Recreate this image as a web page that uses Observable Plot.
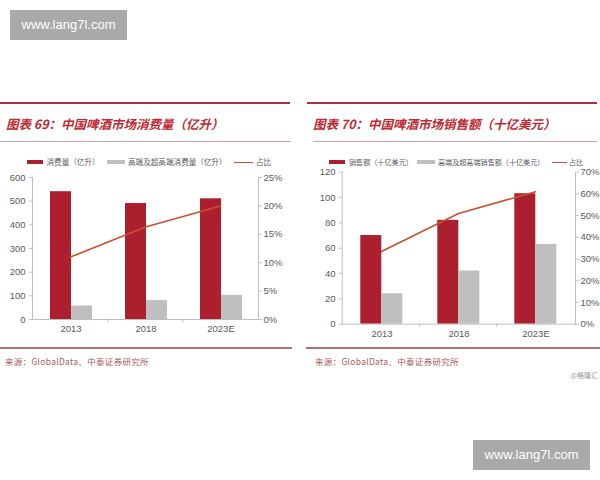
<!DOCTYPE html>
<html><head><meta charset="utf-8">
<script src="https://cdn.jsdelivr.net/npm/d3@7"></script>
<script src="https://cdn.jsdelivr.net/npm/@observablehq/plot@0.6"></script>
<style>
body{margin:0;background:#fff;}
#root{position:relative;width:600px;height:480px;overflow:hidden;background:#fff;font-family:"Noto Sans CJK SC","Noto Sans",sans-serif;}
.a{position:absolute;white-space:nowrap;}
.title{font-size:12.5px;font-weight:bold;font-style:italic;color:#BE2A32;line-height:14px;}
.leg{line-height:10px;color:#595959;}
.src{font-size:8.5px;color:#B05858;line-height:10px;letter-spacing:0.3px;}
.wm{background:#A9A9A9;color:#fff;font-family:"Liberation Sans",Arial,sans-serif;font-size:13px;text-align:center;line-height:30px;width:117px;height:30px;}
svg{position:absolute;}
</style></head><body><div id="root"></div>
<script>
// ---- data ----
const categories = ["2013", "2018", "2023E"];
const seriesVolume = ["消费量（亿升）", "高端及超高端消费量（亿升）"];
const seriesSales = ["销售额（十亿美元）", "高端及超高端销售额（十亿美元）"];
const shareLabel = "占比";
const volumeTotal = [540, 490, 510];
const volumePremium = [57, 80, 102];
const volumeShare = [0.11, 0.163, 0.20];
const salesTotal = [70, 82, 103];
const salesPremium = [24, 42, 63];
const salesShare = [0.335, 0.51, 0.61];
const volumeTicks = [0, 100, 200, 300, 400, 500, 600];
const volumeShareTicks = [0, 0.05, 0.10, 0.15, 0.20, 0.25];
const salesTicks = [0, 20, 40, 60, 80, 100, 120];
const salesShareTicks = [0, 0.1, 0.2, 0.3, 0.4, 0.5, 0.6, 0.7];
const titleVolume = "图表 69：中国啤酒市场消费量（亿升）";
const titleSales = "图表 70：中国啤酒市场销售额（十亿美元）";
const sourceText = "来源：GlobalData、中泰证券研究所";
const watermark = "www.lang7l.com";
const credit = "@格隆汇";

// ---- style ----
const RED = "#AC1F2E", GRAY = "#BFBFBF", LINE = "#C9502E", AXIS = "#BFBFBF", TXT = "#595959";
const root = document.getElementById("root");

function el(cls, text, css) {
  const d = document.createElement("div");
  d.className = "a " + cls;
  if (text != null) d.textContent = text;
  Object.assign(d.style, css);
  root.appendChild(d);
  return d;
}

function chart(o) {
  const rows = [];
  categories.forEach((c, i) => {
    rows.push({category: c, series: o.series[0], value: o.total[i]});
    rows.push({category: c, series: o.series[1], value: o.premium[i]});
  });
  const share = categories.map((c, i) => ({category: c, share: o.share[i]}));
  const common = {
    width: o.width, height: o.height,
    marginLeft: o.ml, marginRight: o.mr, marginTop: o.mt, marginBottom: o.mb,
    style: {background: "transparent", fontFamily: "'Liberation Sans', Arial, sans-serif", fontSize: "9.5px", color: TXT, overflow: "visible"}
  };
  const step = (o.width - o.ml - o.mr) / categories.length;
  const bars = Plot.plot({
    ...common,
    fx: {domain: categories, padding: 0, label: null},
    x: {domain: o.series, axis: null, paddingInner: 0, paddingOuter: 0.75},
    y: {domain: [0, o.ticks[o.ticks.length - 1]], label: null},
    color: {domain: o.series, range: [RED, GRAY]},
    marks: [
      Plot.barY(rows, {fx: "category", x: "series", y: "value", fill: "series"}),
      Plot.axisFx({anchor: "bottom", tickSize: 0, tickPadding: 6, label: null}),
      Plot.axisY(o.ticks, {anchor: "left", tickSize: 4, tickPadding: 4, stroke: AXIS, label: null})
    ]
  });
  const lines = Plot.plot({
    ...common,
    x: {type: "point", domain: categories, padding: 0.5, axis: null},
    y: {domain: [0, o.shareTicks[o.shareTicks.length - 1]], label: null},
    marks: [
      Plot.frame({anchor: "left", stroke: AXIS}),
      Plot.frame({anchor: "right", stroke: AXIS}),
      Plot.frame({anchor: "bottom", stroke: AXIS}),
      Plot.ruleX(categories.slice(1), {x: d => d, y1: 0, y2: 0, insetBottom: -3, dx: -step / 2, stroke: AXIS}),
      Plot.axisY(o.shareTicks, {anchor: "right", tickSize: 3, tickPadding: 2, stroke: AXIS, tickFormat: d3.format(".0%"), label: null}),
      Plot.lineY(share, {x: "category", y: "share", stroke: LINE, strokeWidth: 1.6})
    ]
  });
  for (const s of [bars, lines]) {
    s.style.left = o.left + "px";
    s.style.top = o.top + "px";
    root.appendChild(s);
  }
}

// Left chart
chart({series: seriesVolume, total: volumeTotal, premium: volumePremium, share: volumeShare,
  ticks: volumeTicks, shareTicks: volumeShareTicks,
  left: 0, top: 165, width: 290, height: 175, ml: 32, mr: 32, mt: 12, mb: 21});
// Right chart
chart({series: seriesSales, total: salesTotal, premium: salesPremium, share: salesShare,
  ticks: salesTicks, shareTicks: salesShareTicks,
  left: 300, top: 160, width: 300, height: 185, ml: 41.7, mr: 25, mt: 11.7, mb: 21.3});

// Header rules and titles
el("", null, {left: "0px", top: "102px", width: "290px", height: "2px", background: "#A8343A"});
el("", null, {left: "307px", top: "102px", width: "290px", height: "2px", background: "#A8343A"});
el("", null, {left: "0px", top: "141px", width: "291px", height: "1px", background: "#D9A3A3"});
el("", null, {left: "313px", top: "141px", width: "284px", height: "1px", background: "#D9A3A3"});
el("title", titleVolume, {left: "6px", top: "117px"});
el("title", titleSales, {left: "313px", top: "117px"});

// Legends
function legend(items, fs) {
  for (const it of items) {
    if (it.sw) el("", null, {left: it.x + "px", top: (162.3 - it.h / 2) + "px", width: it.w + "px", height: it.h + "px", background: it.sw});
    else el("leg", it.t, {left: it.x + "px", top: "157.3px", fontSize: fs + "px"});
  }
}
legend([
  {x: 27, w: 16, h: 4, sw: RED}, {x: 46.5, t: seriesVolume[0]},
  {x: 107, w: 18, h: 4, sw: GRAY}, {x: 128, t: seriesVolume[1]},
  {x: 234, w: 19, h: 1.6, sw: LINE}, {x: 256, t: shareLabel}
], 7.6);
legend([
  {x: 329, w: 16, h: 4, sw: RED}, {x: 349, t: seriesSales[0]},
  {x: 417, w: 18, h: 4, sw: GRAY}, {x: 438, t: seriesSales[1]},
  {x: 552, w: 15, h: 1.6, sw: LINE}, {x: 569, t: shareLabel}
], 7.1);

// Footer
el("", null, {left: "0px", top: "347px", width: "292px", height: "1.5px", background: "#B57070"});
el("", null, {left: "306px", top: "347px", width: "294px", height: "1.5px", background: "#B57070"});
el("src", sourceText, {left: "5px", top: "356px"});
el("src", sourceText, {left: "315px", top: "356px"});
el("", credit, {right: "2px", top: "370px", fontSize: "7px", color: "#9a9a9a", lineHeight: "10px"});

// Watermarks
el("wm", watermark, {left: "10px", top: "10px"});
el("wm", watermark, {left: "473px", top: "440px"});
</script></body></html>
